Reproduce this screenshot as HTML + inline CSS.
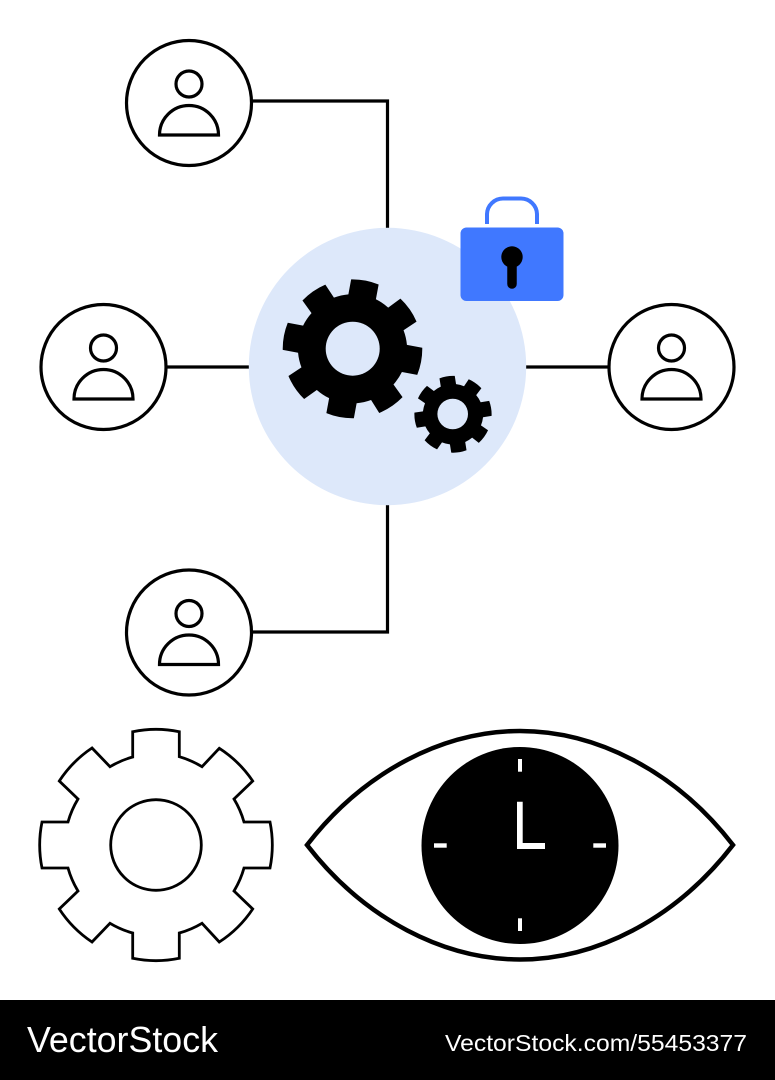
<!DOCTYPE html>
<html>
<head>
<meta charset="utf-8">
<style>
html,body{margin:0;padding:0;background:#fff;width:775px;height:1080px;overflow:hidden}
svg{display:block}
text{font-family:"Liberation Sans",sans-serif;fill:#fff}
</style>
</head>
<body>
<svg width="775" height="1080" viewBox="0 0 775 1080" xmlns="http://www.w3.org/2000/svg">
<defs>
<path id="g" d="M-23.3,-113.3 A116,116 0 0 1 23.3,-113.3 L23.3,-88.3 A92,92 0 0 1 46,-78.3 L63.3,-96.7 A116,116 0 0 1 96.7,-64 L78,-46 A92,92 0 0 1 88,-23 L114,-23 A116,116 0 0 1 114,23 L88,23 A92,92 0 0 1 78,46 L96.7,64 A116,116 0 0 1 63.3,97 L46,78.3 A92,92 0 0 1 23.3,88 L23.3,113.3 A116,116 0 0 1 -23.3,113.3 L-23.3,88 A92,92 0 0 1 -46,78.3 L-64,97 A116,116 0 0 1 -96.7,64 L-78,46 A92,92 0 0 1 -88,23 L-114,23 A116,116 0 0 1 -114,-23 L-88,-23 A92,92 0 0 1 -78,-46 L-96.7,-64 A116,116 0 0 1 -64,-97 L-46,-78.3 A92,92 0 0 1 -23.3,-88 Z"/>
<g id="p">
<circle r="62.5" fill="#fff" stroke="#000" stroke-width="3.2"/>
<circle cx="0" cy="-19" r="13" fill="none" stroke="#000" stroke-width="3.2"/>
<path d="M-29.5,32 A29.5,29.5 0 0 1 29.5,32 Z" fill="none" stroke="#000" stroke-width="3.2"/>
</g>
</defs>
<rect width="775" height="1080" fill="#fff"/>

<!-- connectors -->
<path d="M252,101 H387.5 V230 M165,367 H250 M525,367 H610 M387.5,503 V632 H252" fill="none" stroke="#000" stroke-width="3.200"/>

<!-- central circle -->
<circle cx="387.5" cy="366.5" r="138.7" fill="#dde8fa"/>

<!-- people -->
<use href="#p" x="189" y="103"/>
<use href="#p" x="103.500" y="367"/>
<use href="#p" x="671.500" y="367"/>
<use href="#p" x="189" y="632.500"/>

<!-- dark gears -->
<g transform="translate(352.500 348.800) rotate(10.500) scale(0.600)"><use href="#g" fill="#000"/></g>
<circle cx="352.700" cy="348.700" r="27" fill="#dde8fa"/>
<g transform="translate(453 414.300) rotate(-9) scale(0.332)"><use href="#g" fill="#000"/></g>
<circle cx="452.700" cy="414" r="15.300" fill="#dde8fa"/>

<!-- lock -->
<rect x="460.500" y="227.500" width="103" height="73.500" rx="6" fill="#4078ff"/>
<path d="M487,224 V214 A16,16 0 0 1 503,198.500 H521 A16,16 0 0 1 537,214 V224" fill="none" stroke="#4078ff" stroke-width="4"/>
<circle cx="512" cy="257" r="10.700" fill="#000"/>
<path d="M512,260 V284" stroke="#000" stroke-width="9.500" stroke-linecap="round"/>

<!-- outline gear -->
<g transform="translate(156 845)"><use href="#g" fill="#fff" stroke="#000" stroke-width="2.800"/></g>
<circle cx="156" cy="845" r="45.300" fill="none" stroke="#000" stroke-width="2.800"/>

<!-- eye -->
<path d="M307,845 C365,770 445,731 520,731 C595,731 675,770 733,845 C675,920 595,959.500 520,959.500 C445,959.500 365,920 307,845 Z" fill="#fff" stroke="#000" stroke-width="4.500" stroke-linejoin="miter"/>
<circle cx="520" cy="845.500" r="98.500" fill="#000"/>
<g fill="#fff">
<rect x="518" y="759" width="4" height="12.700"/>
<rect x="518" y="918.300" width="4" height="12.700"/>
<rect x="434" y="843.300" width="12.700" height="4.400"/>
<rect x="593.300" y="843.300" width="12.700" height="4.400"/>
<path d="M517,801.700 H522.700 V843 H545 V849 H517 Z"/>
</g>

<!-- footer -->
<rect x="0" y="1000" width="775" height="80" fill="#000"/>
<text x="27" y="1052" font-size="36" textLength="191" lengthAdjust="spacingAndGlyphs">VectorStock</text>
<text x="445" y="1051" font-size="23.500" textLength="302" lengthAdjust="spacingAndGlyphs">VectorStock.com/55453377</text>
</svg>
</body>
</html>
